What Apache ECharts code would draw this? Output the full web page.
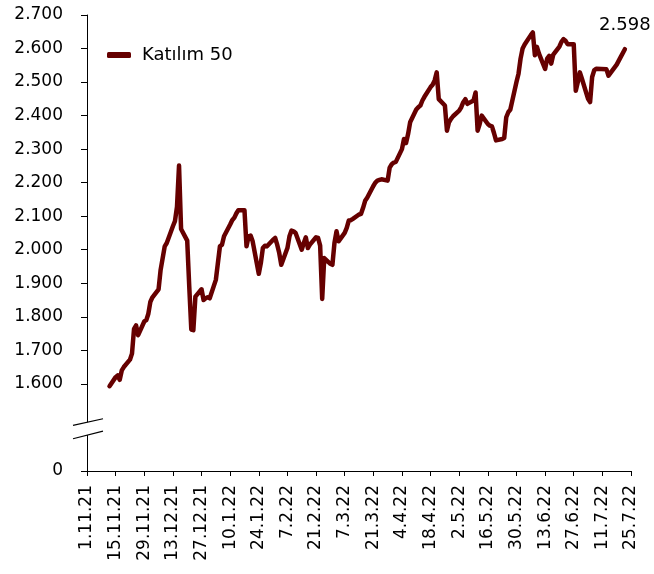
<!DOCTYPE html>
<html>
<head>
<meta charset="utf-8">
<script src="https://cdn.jsdelivr.net/npm/echarts@6/dist/echarts.min.js"></script>
<style>
html,body{margin:0;padding:0;background:#fff;}
#c{width:654px;height:574px;}
</style>
</head>
<body>
<div id="c"></div>
<script>
// ---- data ----
const seriesName = 'Katılım 50';
const yTickValues = [1600, 1700, 1800, 1900, 2000, 2100, 2200, 2300, 2400, 2500, 2600, 2700];
const yAxisBottom = 1340;   // shown as "0" (broken axis)
const yAxisTop = 2700;
const axisStart = [2021, 10, 1];  // 1.11.21
const axisEnd = [2022, 6, 25];    // 25.7.22
const katilim50 = [
  ['12.11.21',1593],['15.11.21',1620],['16.11.21',1625],['17.11.21',1612],['18.11.21',1640],['19.11.21',1650],
  ['22.11.21',1672],['23.11.21',1690],['24.11.21',1764],['25.11.21',1774],['26.11.21',1745],['29.11.21',1786],['30.11.21',1790],
  ['1.12.21',1809],['2.12.21',1845],['3.12.21',1858],['6.12.21',1882],['7.12.21',1940],['8.12.21',1975],['9.12.21',2010],['10.12.21',2020],
  ['13.12.21',2070],['14.12.21',2085],['15.12.21',2128],['16.12.21',2251],['17.12.21',2062],['20.12.21',2027],['21.12.21',1890],
  ['22.12.21',1762],['23.12.21',1760],['24.12.21',1860],['27.12.21',1882],['28.12.21',1850],['29.12.21',1855],['30.12.21',1858],['31.12.21',1855],
  ['3.1.22',1910],['4.1.22',1960],['5.1.22',2010],['6.1.22',2015],['7.1.22',2040],['10.1.22',2075],['11.1.22',2088],['12.1.22',2095],
  ['13.1.22',2108],['14.1.22',2118],['17.1.22',2118],['18.1.22',2010],['19.1.22',2040],['20.1.22',2042],['21.1.22',2025],
  ['24.1.22',1928],['25.1.22',1960],['26.1.22',2005],['27.1.22',2012],['28.1.22',2010],['31.1.22',2030],
  ['1.2.22',2035],['2.2.22',2015],['3.2.22',1990],['4.2.22',1955],['7.2.22',2005],['8.2.22',2040],['9.2.22',2057],['10.2.22',2055],
  ['11.2.22',2050],['14.2.22',2000],['15.2.22',2020],['16.2.22',2037],['17.2.22',2005],['18.2.22',2015],['21.2.22',2037],
  ['22.2.22',2035],['23.2.22',2012],['24.2.22',1853],['25.2.22',1975],['28.2.22',1958],
  ['1.3.22',1955],['2.3.22',2020],['3.3.22',2055],['4.3.22',2025],['7.3.22',2050],['8.3.22',2065],['9.3.22',2087],['10.3.22',2088],
  ['11.3.22',2092],['14.3.22',2105],['15.3.22',2107],['16.3.22',2125],['17.3.22',2146],['18.3.22',2155],['21.3.22',2190],
  ['22.3.22',2200],['23.3.22',2206],['24.3.22',2208],['25.3.22',2210],['28.3.22',2206],['29.3.22',2245],['30.3.22',2255],['31.3.22',2260],
  ['1.4.22',2262],['4.4.22',2300],['5.4.22',2330],['6.4.22',2318],['7.4.22',2345],['8.4.22',2380],['11.4.22',2418],['12.4.22',2425],
  ['13.4.22',2430],['14.4.22',2445],['15.4.22',2456],['18.4.22',2485],['19.4.22',2492],['20.4.22',2505],['21.4.22',2529],
  ['22.4.22',2449],['25.4.22',2430],['26.4.22',2355],['27.4.22',2380],['28.4.22',2390],['29.4.22',2398],
  ['2.5.22',2415],['3.5.22',2425],['4.5.22',2440],['5.5.22',2449],['6.5.22',2435],['9.5.22',2445],['10.5.22',2469],['11.5.22',2355],
  ['12.5.22',2375],['13.5.22',2400],['16.5.22',2375],['17.5.22',2370],['18.5.22',2368],['19.5.22',2348],['20.5.22',2326],
  ['23.5.22',2330],['24.5.22',2333],['25.5.22',2395],['26.5.22',2410],['27.5.22',2418],['30.5.22',2500],['31.5.22',2525],
  ['1.6.22',2570],['2.6.22',2600],['3.6.22',2612],['6.6.22',2640],['7.6.22',2648],['8.6.22',2580],['9.6.22',2605],['10.6.22',2585],
  ['13.6.22',2539],['14.6.22',2570],['15.6.22',2578],['16.6.22',2555],['17.6.22',2582],['20.6.22',2606],['21.6.22',2620],
  ['22.6.22',2628],['23.6.22',2623],['24.6.22',2613],['27.6.22',2613],['28.6.22',2474],['29.6.22',2500],['30.6.22',2529],
  ['1.7.22',2510],['4.7.22',2450],['5.7.22',2440],['6.7.22',2515],['7.7.22',2535],['8.7.22',2540],['13.7.22',2538],
  ['14.7.22',2519],['18.7.22',2552],['20.7.22',2575],['22.7.22',2598]
];
const breakValue = 1466;

// ---- helpers ----
function fmt(v){ return String(v).replace(/\B(?=(\d{3})+(?!\d))/g, '.'); }
const categories = [];
(function(){
  const d = new Date(axisStart[0], axisStart[1], axisStart[2]);
  const end = new Date(axisEnd[0], axisEnd[1], axisEnd[2]);
  while (d <= end) {
    categories.push(d.getDate() + '.' + (d.getMonth()+1) + '.' + String(d.getFullYear()).slice(2));
    d.setDate(d.getDate()+1);
  }
})();
const lastPoint = katilim50[katilim50.length - 1];

const FONT = 'DejaVu Sans';
const chart = echarts.init(document.getElementById('c'), null, {renderer: 'canvas'});
chart.setOption({
  animation: false,
  backgroundColor: '#fff',
  textStyle: { fontFamily: FONT },
  grid: { left: 87, right: 23, top: 15, bottom: 103, outerBoundsMode: 'none' },
  legend: {
    left: 102, top: 41,
    icon: 'roundRect', itemWidth: 24, itemHeight: 6,
    textStyle: { fontSize: 18, color: '#000', fontFamily: FONT, padding: [0,0,0,6] },
    data: [seriesName]
  },
  xAxis: {
    type: 'category',
    data: categories,
    boundaryGap: false,
    axisLine: { lineStyle: { color: '#000', width: 1 } },
    axisTick: { show: true, interval: 13, length: 5, lineStyle: { color: '#000' } },
    axisLabel: { interval: 13, rotate: 90, margin: 14, fontSize: 17, color: '#000', fontFamily: FONT },
    splitLine: { show: false }
  },
  yAxis: {
    type: 'value',
    min: yAxisBottom, max: yAxisTop,
    axisLine: { show: true, lineStyle: { color: '#000', width: 1 } },
    axisTick: { show: true, length: 6, customValues: [yAxisBottom].concat(yTickValues), lineStyle: { color: '#000' } },
    axisLabel: {
      customValues: [yAxisBottom].concat(yTickValues),
      formatter: v => v === yAxisBottom ? '0' : fmt(v),
      margin: 24, fontSize: 17, color: '#000', fontFamily: FONT
    },
    splitLine: { show: false }
  },
  series: [{
    name: seriesName,
    type: 'line',
    data: katilim50,
    showSymbol: false,
    symbol: 'none',
    lineStyle: { color: '#660000', width: 4.5, join: 'round', cap: 'round' },
    itemStyle: { color: '#660000' },
    markPoint: {
      silent: true,
      symbol: 'circle', symbolSize: 1,
      itemStyle: { color: 'rgba(0,0,0,0)' },
      label: { show: true, position: 'top', distance: 14, fontSize: 18, color: '#000', fontFamily: FONT,
               formatter: () => fmt(lastPoint[1]) },
      data: [{ coord: lastPoint }]
    }
  }]
});

// axis break marks
const bp = chart.convertToPixel({gridIndex: 0}, [0, breakValue]);
const bx = bp[0], by = bp[1];
chart.setOption({
  graphic: [
    { type: 'polygon', z: 100, silent: true,
      shape: { points: [[bx-14, by-3.3],[bx+16, by-10],[bx+16, by+2.3],[bx-14, by+10]] },
      style: { fill: '#fff' } },
    { type: 'line', z: 101, silent: true,
      shape: { x1: bx-14, y1: by-3.3, x2: bx+16, y2: by-10 },
      style: { stroke: '#000', lineWidth: 1.2 } },
    { type: 'line', z: 101, silent: true,
      shape: { x1: bx-14, y1: by+10, x2: bx+16, y2: by+2.3 },
      style: { stroke: '#000', lineWidth: 1.2 } }
  ]
});
</script>
</body>
</html>
